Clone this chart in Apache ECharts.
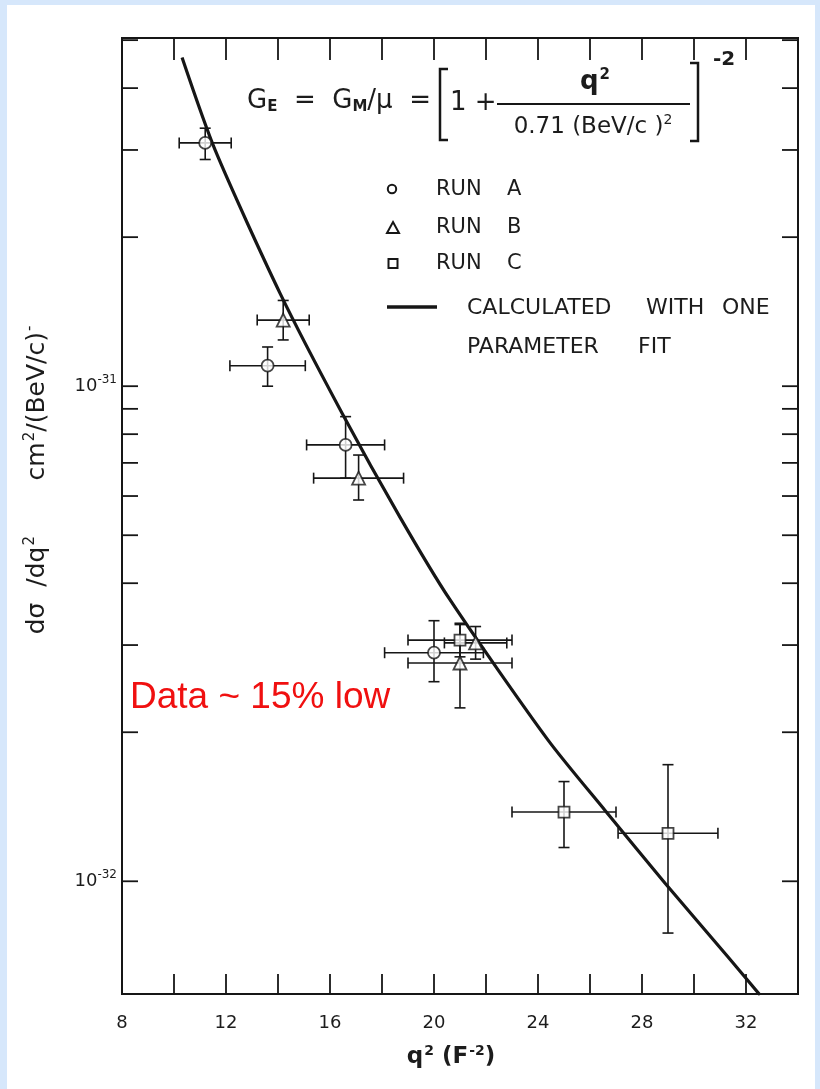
<!DOCTYPE html>
<html><head><meta charset="utf-8">
<script src="https://cdn.jsdelivr.net/npm/echarts@6/dist/echarts.min.js"></script>
<style>html,body{margin:0;padding:0;background:#d6e7fb;} #c{width:820px;height:1089px;}</style>
</head><body><div id="c"></div>
<script>
// ---- data ----
const xTickLabels = ['8', '12', '16', '20', '24', '28', '32'];
const yTickValues = [2e-32, 3e-32, 4e-32, 5e-32, 6e-32, 7e-32, 8e-32, 9e-32, 1e-32, 1e-31, 2e-31, 3e-31, 4e-31, 5e-31];

const runA_q2  = [11.2, 13.6, 16.6, 20.0];
const runA_dq  = [1.0, 1.45, 1.5, 1.9];
const runA_val = [3.10e-31, 1.10e-31, 7.61e-32, 2.895e-32];
const runA_hi  = [3.32e-31, 1.20e-31, 8.68e-32, 3.36e-32];
const runA_lo  = [2.87e-31, 1.00e-31, 6.52e-32, 2.53e-32];

const runB_q2  = [14.2, 17.1, 21.0, 21.6];
const runB_dq  = [1.0, 1.73, 2.0, 1.2];
const runB_val = [1.36e-31, 6.52e-32, 2.76e-32, 3.03e-32];
const runB_hi  = [1.49e-31, 7.26e-32, 3.30e-32, 3.27e-32];
const runB_lo  = [1.24e-31, 5.89e-32, 2.24e-32, 2.81e-32];

const runC_q2  = [21.0, 25.0, 29.0];
const runC_dq  = [2.0, 2.0, 1.92];
const runC_val = [3.07e-32, 1.38e-32, 1.25e-32];
const runC_hi  = [3.32e-32, 1.59e-32, 1.72e-32];
const runC_lo  = [2.84e-32, 1.17e-32, 7.86e-33];

const fit_q2  = [10.31, 11.58, 14.08, 16.46, 18.69, 20.62, 24.38, 26.58, 28.88, 31.31, 32.54];
const fit_val = [4.61e-31, 3.00e-31, 1.54e-31, 8.83e-32, 5.44e-32, 3.70e-32, 1.93e-32, 1.39e-32, 9.92e-33, 7.03e-33, 5.89e-33];

// ---- chart ----
const X_MIN = 8, X_MAX = 34, Y_MIN = 5.92e-33, Y_MAX = 5.05e-31;
const INK = '#161616';
const TXT = '#1c1c1c';
const FONT = 'DejaVu Sans';

const chart = echarts.init(document.getElementById('c'), null, {renderer: 'canvas', width: 820, height: 1089});

function errData(q2, dq, val, lo, hi) { return q2.map((x, i) => [x, val[i], dq[i], lo[i], hi[i]]); }
function ptData(q2, val) { return q2.map((x, i) => [x, val[i]]); }

function renderErr(params, api) {
  const x = api.value(0), y = api.value(1), dx = api.value(2), lo = api.value(3), hi = api.value(4);
  const c = api.coord([x, y]), l = api.coord([x - dx, y]), r = api.coord([x + dx, y]);
  const t = api.coord([x, hi]), b = api.coord([x, lo]);
  const cap = 5.5;
  const st = {stroke: INK, lineWidth: 1.6};
  const L = (x1, y1, x2, y2) => ({type: 'line', shape: {x1, y1, x2, y2}, style: st});
  return {type: 'group', children: [
    L(l[0], c[1], r[0], c[1]),
    L(l[0], c[1] - cap, l[0], c[1] + cap),
    L(r[0], c[1] - cap, r[0], c[1] + cap),
    L(c[0], t[1], c[0], b[1]),
    L(c[0] - cap, t[1], c[0] + cap, t[1]),
    L(c[0] - cap, b[1], c[0] + cap, b[1])
  ]};
}

function renderYTick(params, api) {
  const v = api.value(1);
  const p = api.coord([X_MIN, v]), q = api.coord([X_MAX, v]);
  const len = 16;
  const st = {stroke: INK, lineWidth: 1.8};
  return {type: 'group', children: [
    {type: 'line', shape: {x1: p[0], y1: p[1], x2: p[0] + len, y2: p[1]}, style: st},
    {type: 'line', shape: {x1: q[0] - len, y1: q[1], x2: q[0], y2: q[1]}, style: st}
  ]};
}

const symStyle = {color: '#fff', borderColor: INK, borderWidth: 1.8};
const T = (x, y, text, size) => ({type: 'text', x, y, z: 10, style: {text, fontSize: size, fill: TXT, fontFamily: FONT, verticalAlign: 'middle'}});

const option = {
  backgroundColor: '#d6e7fb',
  animation: false,
  textStyle: {fontFamily: FONT},
  grid: {left: 122, top: 38, width: 676, height: 956, show: true, borderColor: INK, borderWidth: 2, backgroundColor: 'transparent', outerBoundsMode: 'none'},
  xAxis: [{
    type: 'value', min: X_MIN, max: X_MAX, interval: 2, position: 'bottom',
    axisLine: {show: true, lineStyle: {color: INK, width: 2}},
    axisTick: {show: true, inside: true, length: 20, lineStyle: {color: INK, width: 1.8}},
    splitLine: {show: false},
    axisLabel: {
      margin: 20, color: TXT, fontSize: 18, fontFamily: FONT,
      showMinLabel: true, showMaxLabel: true,
      formatter: v => (xTickLabels.indexOf(String(v)) >= 0 ? String(v) : '')
    },
    name: '{q|q}{s|2}{q| (F}{s|-2}{q|)}', nameLocation: 'middle', nameGap: 50,
    nameTextStyle: {
      padding: [0, 18, 0, 0],
      rich: {
        q: {fontSize: 23, fontWeight: 'bold', color: TXT, fontFamily: FONT},
        s: {fontSize: 14, fontWeight: 'bold', color: TXT, fontFamily: FONT, padding: [0, 0, 12, 1]}
      }
    }
  }, {
    type: 'value', min: X_MIN, max: X_MAX, interval: 2, position: 'top',
    axisLine: {show: true, lineStyle: {color: INK, width: 2}},
    axisTick: {show: true, inside: true, length: 22, lineStyle: {color: INK, width: 1.8}},
    splitLine: {show: false}, axisLabel: {show: false}
  }],
  yAxis: [{
    type: 'log', logBase: 10, min: Y_MIN, max: Y_MAX,
    axisLine: {show: true, lineStyle: {color: INK, width: 2}},
    axisTick: {show: false}, minorTick: {show: false}, splitLine: {show: false},
    axisLabel: {
      margin: 5, showMinLabel: false, showMaxLabel: false,
      formatter: v => {
        const lg = Math.log10(v), e = Math.round(lg);
        if (Math.abs(lg - e) > 1e-6) return '';
        return '{b|10}{s|-' + Math.abs(e) + '}';
      },
      rich: {
        b: {fontSize: 18, color: TXT, fontFamily: FONT},
        s: {fontSize: 12, color: TXT, fontFamily: FONT, padding: [0, 0, 12, 0]}
      }
    }
  }],
  series: [
    {type: 'line', name: 'fit', data: ptData(fit_q2, fit_val), showSymbol: false, smooth: 0.25,
      lineStyle: {color: INK, width: 3.2}, clip: true, z: 2, silent: true},
    {type: 'custom', name: 'errA', data: errData(runA_q2, runA_dq, runA_val, runA_lo, runA_hi), renderItem: renderErr, z: 3, silent: true},
    {type: 'custom', name: 'errB', data: errData(runB_q2, runB_dq, runB_val, runB_lo, runB_hi), renderItem: renderErr, z: 3, silent: true},
    {type: 'custom', name: 'errC', data: errData(runC_q2, runC_dq, runC_val, runC_lo, runC_hi), renderItem: renderErr, z: 3, silent: true},
    {type: 'scatter', name: 'RUN A', data: ptData(runA_q2, runA_val), symbol: 'circle', symbolSize: 12, itemStyle: symStyle, z: 4},
    {type: 'scatter', name: 'RUN B', data: ptData(runB_q2, runB_val), symbol: 'triangle', symbolSize: 13, itemStyle: symStyle, z: 4},
    {type: 'scatter', name: 'RUN C', data: ptData(runC_q2, runC_val), symbol: 'rect', symbolSize: 11, itemStyle: symStyle, z: 4},
    {type: 'custom', name: 'yticks', data: yTickValues.map(v => [X_MIN, v]), renderItem: renderYTick, z: 3, silent: true, clip: false}
  ],
  graphic: [
    {type: 'rect', z: -5, silent: true, shape: {x: 7, y: 5, width: 808, height: 1084}, style: {fill: '#ffffff'}},
    // y axis title
    {type: 'text', x: 37, y: 480, rotation: Math.PI / 2, z: 10, style: {
      text: '{n|dσ  /dq}{s|2}{n|       cm}{s|2}{n|/(BeV/c)}{s|-}', align: 'center', verticalAlign: 'middle',
      rich: {
        n: {fontSize: 25, fill: TXT, fontFamily: FONT},
        s: {fontSize: 15, fill: TXT, fontFamily: FONT, padding: [0, 0, 13, 1]}
      }
    }},
    // formula
    {type: 'text', x: 247, y: 101, z: 10, style: {
      text: '{n|G}{b|E}{n|  =  G}{b|M}{n|/μ  =}', align: 'left', verticalAlign: 'middle',
      rich: {
        n: {fontSize: 26, fill: TXT, fontFamily: FONT},
        b: {fontSize: 15, fill: TXT, fontFamily: FONT, fontWeight: 'bold', padding: [13, 0, 0, 0]}
      }
    }},
    {type: 'polyline', z: 10, shape: {points: [[448, 69], [440, 69], [440, 140], [448, 140]]}, style: {stroke: INK, lineWidth: 2.5, fill: null}},
    {type: 'text', x: 450, y: 103, z: 10, style: {text: '1 +', fontSize: 26, fill: TXT, fontFamily: FONT, align: 'left', verticalAlign: 'middle'}},
    {type: 'line', z: 10, shape: {x1: 497, y1: 104, x2: 690, y2: 104}, style: {stroke: INK, lineWidth: 2}},
    {type: 'text', x: 595, y: 82, z: 10, style: {
      text: '{q|q}{s|2}', align: 'center', verticalAlign: 'middle',
      rich: {
        q: {fontSize: 26, fontWeight: 'bold', fill: TXT, fontFamily: FONT},
        s: {fontSize: 15, fontWeight: 'bold', fill: TXT, fontFamily: FONT, padding: [0, 0, 14, 1]}
      }
    }},
    {type: 'text', x: 593, y: 127, z: 10, style: {
      text: '{n|0.71 (BeV/c )}{s|2}', align: 'center', verticalAlign: 'middle',
      rich: {
        n: {fontSize: 23, fill: TXT, fontFamily: FONT},
        s: {fontSize: 14, fill: TXT, fontFamily: FONT, padding: [0, 0, 14, 0]}
      }
    }},
    {type: 'polyline', z: 10, shape: {points: [[690, 63], [698, 63], [698, 141], [690, 141]]}, style: {stroke: INK, lineWidth: 2.5, fill: null}},
    {type: 'text', x: 713, y: 60, z: 10, style: {text: '-2', fontSize: 20, fontWeight: 'bold', fill: TXT, fontFamily: FONT, align: 'left', verticalAlign: 'middle'}},
    // legend
    {type: 'circle', z: 10, shape: {cx: 392, cy: 189, r: 4.2}, style: {stroke: INK, lineWidth: 2, fill: '#fff'}},
    {type: 'polygon', z: 10, shape: {points: [[393, 222], [399, 233], [387, 233]]}, style: {stroke: INK, lineWidth: 2, fill: '#fff'}},
    {type: 'rect', z: 10, shape: {x: 388.5, y: 259, width: 9, height: 9}, style: {stroke: INK, lineWidth: 2, fill: '#fff'}},
    {type: 'line', z: 10, shape: {x1: 387, y1: 307, x2: 437, y2: 307}, style: {stroke: INK, lineWidth: 3.5}},
    T(436, 190, 'RUN', 21), T(507, 190, 'A', 21),
    T(436, 228, 'RUN', 21), T(507, 228, 'B', 21),
    T(436, 264, 'RUN', 21), T(507, 264, 'C', 21),
    T(467, 308, 'CALCULATED', 22), T(646, 308, 'WITH', 22), T(722, 308, 'ONE', 22),
    T(467, 347, 'PARAMETER', 22), T(638, 347, 'FIT', 22),
    // annotation
    {type: 'text', x: 130, y: 698, z: 12, style: {text: 'Data ~ 15% low', fontSize: 37, fill: '#f01010', fontFamily: 'Liberation Sans', verticalAlign: 'middle'}}
  ]
};
chart.setOption(option);
</script>
</body></html>
